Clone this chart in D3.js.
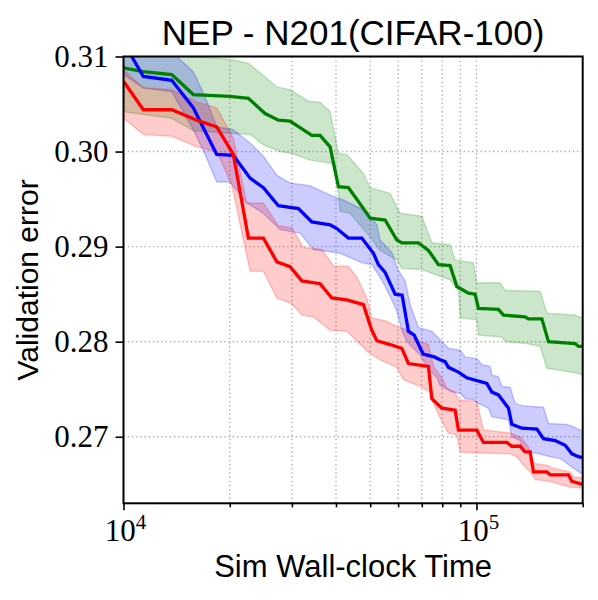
<!DOCTYPE html>
<html>
<head>
<meta charset="utf-8">
<script src="https://cdn.jsdelivr.net/npm/d3@7"></script>
<style>
  body { margin: 0; background: #fff; }
</style>
</head>
<body>
<div id="chart"></div>
<script>
const width = 598;
const height = 600;
const plot = { left: 123.5, right: 582.7, top: 56.5, bottom: 503.3 };

// tick values
const yTicks = [0.27, 0.28, 0.29, 0.30, 0.31];
const yTickLabels = ['0.27', '0.28', '0.29', '0.30', '0.31'];
const xMajor = [1e4, 1e5];
const xMajorExp = ['4', '5'];
const xMinor = [2e4, 3e4, 4e4, 5e4, 6e4, 7e4, 8e4, 9e4, 2e5];

// [time, validation error]
const greenMean = [[10000,0.3088],[11360,0.3084],[13700,0.3081],[15770,0.3060],[20040,0.3058],[22590,0.3056],[25190,0.3040],[27470,0.3033],[29640,0.3032],[34160,0.3017],[36060,0.3017],[38490,0.3005],[40640,0.2963],[43380,0.2962],[46810,0.2945],[49970,0.2930],[55110,0.2928],[59490,0.2907],[61460,0.2904],[68490,0.2904],[73110,0.2896],[78040,0.2881],[84230,0.2880],[88000,0.2858],[94920,0.2851],[99150,0.2850],[101310,0.2835],[115450,0.2834],[119270,0.2828],[137420,0.2826],[140410,0.2824],[153240,0.2824],[159980,0.2800],[190440,0.2798],[194580,0.2795],[200000,0.2795]];
const greenUpper = [[10000,0.3112],[13700,0.3107],[15770,0.3100],[20040,0.3097],[22590,0.3093],[24910,0.3080],[27190,0.3068],[29640,0.3065],[33410,0.3053],[36060,0.3052],[38490,0.3042],[40640,0.2998],[42930,0.2997],[47830,0.2977],[49970,0.2962],[56940,0.2956],[60780,0.2935],[70030,0.2932],[74750,0.2904],[84230,0.2902],[87030,0.2886],[98060,0.2883],[100260,0.2862],[116740,0.2862],[120600,0.2854],[151550,0.2853],[158320,0.2830],[190440,0.2828],[194580,0.2826],[200000,0.2826]];
const greenLower = [[10000,0.3042],[11380,0.3039],[13700,0.3035],[15770,0.3022],[20470,0.3019],[22840,0.3018],[24910,0.3007],[27780,0.3000],[29970,0.2998],[33780,0.2991],[38490,0.2988],[39770,0.2986],[40640,0.2957],[41090,0.2937],[43850,0.2935],[49970,0.2910],[53340,0.2896],[59490,0.2886],[61460,0.2877],[70030,0.2876],[77230,0.2870],[84230,0.2865],[88920,0.2854],[89910,0.2825],[100260,0.2823],[101310,0.2807],[118030,0.2805],[120600,0.2800],[138950,0.2798],[151550,0.2795],[158320,0.2772],[192560,0.2767],[200000,0.2765]];

const blueMean = [[10000,0.3115],[10550,0.3100],[11380,0.3079],[13700,0.3075],[15770,0.3046],[18370,0.2997],[20470,0.2996],[22840,0.2972],[24910,0.2962],[27470,0.2943],[31300,0.2940],[34160,0.2926],[38490,0.2923],[40210,0.2919],[43380,0.2909],[47340,0.2909],[51060,0.2893],[52750,0.2881],[55110,0.2873],[58830,0.2850],[61580,0.2849],[64170,0.2811],[66600,0.2807],[70620,0.2787],[75880,0.2784],[78910,0.2781],[81530,0.2779],[83300,0.2773],[88920,0.2768],[93930,0.2762],[107020,0.2756],[110570,0.2747],[115450,0.2744],[119270,0.2737],[123230,0.2730],[125990,0.2713],[134490,0.2709],[148320,0.2708],[154850,0.2698],[167130,0.2696],[178410,0.2691],[186380,0.2682],[194580,0.2679],[200000,0.2678]];
const blueUpper = [[10000,0.3128],[13700,0.3107],[14150,0.3100],[15770,0.3084],[17020,0.3058],[18370,0.3026],[20470,0.3023],[22840,0.3009],[24910,0.2995],[27190,0.2975],[29640,0.2967],[33780,0.2964],[36060,0.2959],[39770,0.2952],[41980,0.2949],[48910,0.2937],[52210,0.2923],[53340,0.2907],[57580,0.2894],[60110,0.2875],[62800,0.2864],[64880,0.2839],[68490,0.2815],[74750,0.2811],[78910,0.2802],[83300,0.2793],[89910,0.2791],[92900,0.2784],[100260,0.2782],[103590,0.2776],[109350,0.2774],[110570,0.2765],[115450,0.2763],[118030,0.2753],[124600,0.2752],[128730,0.2735],[134490,0.2733],[140410,0.2732],[154850,0.2731],[159980,0.2714],[180400,0.2713],[186380,0.2711],[196750,0.2707],[200000,0.2706]];
const blueLower = [[10000,0.3081],[11380,0.3067],[13700,0.3063],[15770,0.3023],[17020,0.2997],[18370,0.2968],[20040,0.2968],[22350,0.2946],[24910,0.2935],[27780,0.2918],[31640,0.2914],[34520,0.2897],[41090,0.2893],[47340,0.2883],[50530,0.2881],[53940,0.2865],[57580,0.2844],[59490,0.2832],[61460,0.2812],[63500,0.2800],[69250,0.2786],[72350,0.2774],[77230,0.2762],[78910,0.2754],[85170,0.2747],[89910,0.2746],[92900,0.2740],[98060,0.2739],[101310,0.2735],[108150,0.2730],[110570,0.2721],[123230,0.2718],[125990,0.2700],[133010,0.2696],[135900,0.2684],[146690,0.2683],[161770,0.2679],[172680,0.2677],[180400,0.2672],[188340,0.2667],[196750,0.2662],[200000,0.2661]];

const redMean = [[10000,0.3074],[11380,0.3044],[13700,0.3044],[16130,0.3033],[18370,0.3026],[20470,0.2997],[22590,0.2909],[24910,0.2909],[27190,0.2884],[29640,0.2879],[32000,0.2864],[36060,0.2861],[38920,0.2846],[42930,0.2844],[47830,0.2839],[50530,0.2812],[52210,0.2801],[56940,0.2797],[61460,0.2793],[64170,0.2777],[73110,0.2774],[74750,0.2740],[79790,0.2730],[87030,0.2728],[88920,0.2707],[100260,0.2707],[104670,0.2694],[121950,0.2694],[125990,0.2690],[133010,0.2690],[137420,0.2684],[141980,0.2684],[145070,0.2663],[158320,0.2663],[161770,0.2660],[182290,0.2660],[186380,0.2653],[200000,0.2650]];
const redUpper = [[10000,0.3086],[11380,0.3067],[13700,0.3065],[16130,0.3052],[18370,0.3046],[20470,0.3014],[22350,0.2946],[24910,0.2946],[27470,0.2922],[29970,0.2920],[32340,0.2899],[36460,0.2897],[39330,0.2880],[43380,0.2879],[45810,0.2868],[48910,0.2846],[50530,0.2825],[55110,0.2822],[59490,0.2816],[62800,0.2813],[65600,0.2804],[73110,0.2797],[75540,0.2774],[79790,0.2762],[82440,0.2751],[87030,0.2747],[88920,0.2739],[100260,0.2737],[104670,0.2707],[124600,0.2704],[133010,0.2700],[140410,0.2689],[145070,0.2672],[158320,0.2670],[165290,0.2667],[184320,0.2663],[188340,0.2658],[200000,0.2657]];
const redLower = [[10000,0.3035],[11380,0.3018],[13700,0.3016],[16130,0.3005],[18370,0.3000],[20260,0.2965],[22840,0.2874],[24910,0.2874],[27190,0.2846],[29970,0.2840],[32000,0.2828],[34520,0.2826],[38490,0.2812],[42930,0.2811],[49420,0.2789],[53340,0.2781],[59490,0.2773],[62100,0.2760],[69250,0.2753],[73920,0.2747],[74750,0.2739],[78910,0.2720],[83140,0.2704],[88000,0.2702],[89910,0.2684],[101310,0.2683],[124600,0.2682],[130170,0.2679],[134490,0.2672],[143560,0.2661],[146690,0.2655],[161770,0.2653],[184320,0.2647],[200000,0.2646]];

const series = [
    { color: '#008000', mean: greenMean, upper: greenUpper, lower: greenLower },
    { color: '#0000ff', mean: blueMean, upper: blueUpper, lower: blueLower },
    { color: '#ff0000', mean: redMean, upper: redUpper, lower: redLower }
];

const svg = d3.select('#chart')
    .append('svg')
    .attr('width', width)
    .attr('height', height);

const x = d3.scaleLog().domain([1e4, 2e5]).range([plot.left, plot.right]);
const y = d3.scaleLinear().domain([0.263, 0.31]).range([plot.bottom, plot.top]);

svg.append('clipPath')
    .attr('id', 'clip')
    .append('rect')
    .attr('x', plot.left)
    .attr('y', plot.top)
    .attr('width', plot.right - plot.left)
    .attr('height', plot.bottom - plot.top);

// grid
const grid = svg.append('g')
    .attr('stroke', '#b0b0b0')
    .attr('stroke-width', 1.4)
    .attr('stroke-dasharray', '1.4,2.8');

grid.selectAll('.vgrid')
    .data(xMajor.concat(xMinor.slice(0, 8)))
    .enter()
    .append('line')
    .attr('x1', d => x(d))
    .attr('x2', d => x(d))
    .attr('y1', plot.top)
    .attr('y2', plot.bottom);

grid.selectAll('.hgrid')
    .data(yTicks)
    .enter()
    .append('line')
    .attr('x1', plot.left)
    .attr('x2', plot.right)
    .attr('y1', d => y(d))
    .attr('y2', d => y(d));

// bands and lines
const line = d3.line().x(d => x(d[0])).y(d => y(d[1]));
const marks = svg.append('g').attr('clip-path', 'url(#clip)');

series.forEach(s => {
    marks.append('path')
        .attr('d', line(s.upper.concat(s.lower.slice().reverse())) + 'Z')
        .attr('fill', s.color)
        .attr('fill-opacity', 0.2)
        .attr('stroke', s.color)
        .attr('stroke-opacity', 0.2)
        .attr('stroke-width', 1.5);
});

series.forEach(s => {
    marks.append('path')
        .attr('d', line(s.mean))
        .attr('fill', 'none')
        .attr('stroke', s.color)
        .attr('stroke-width', 3.3)
        .attr('stroke-linejoin', 'miter');
});

// axes
const yAxis = svg.append('g')
    .attr('transform', `translate(${plot.left},0)`)
    .call(d3.axisLeft(y).tickValues(yTicks).tickSize(8).tickFormat(''));

const xAxis = svg.append('g')
    .attr('transform', `translate(0,${plot.bottom})`)
    .call(d3.axisBottom(x).tickValues(xMajor).tickSize(7).tickFormat(''));

const xAxisMinor = svg.append('g')
    .attr('transform', `translate(0,${plot.bottom})`)
    .call(d3.axisBottom(x).tickValues(xMinor).tickSize(4).tickFormat(''));

[yAxis, xAxis, xAxisMinor].forEach(a => {
    a.select('.domain').remove();
    a.selectAll('line').attr('stroke', '#000').attr('stroke-width', 1.6);
});

svg.append('rect')
    .attr('x', plot.left)
    .attr('y', plot.top)
    .attr('width', plot.right - plot.left)
    .attr('height', plot.bottom - plot.top)
    .attr('fill', 'none')
    .attr('stroke', '#000')
    .attr('stroke-width', 2);

// tick labels
svg.selectAll('.ylabel')
    .data(yTicks)
    .enter()
    .append('text')
    .attr('x', plot.left - 15)
    .attr('y', d => y(d) + 10)
    .attr('text-anchor', 'end')
    .attr('font-family', 'Liberation Serif, serif')
    .attr('font-size', 31)
    .text((d, i) => yTickLabels[i]);

const xLabels = svg.selectAll('.xlabel')
    .data(xMajor)
    .enter()
    .append('text')
    .attr('x', d => x(d) + 2)
    .attr('y', plot.bottom + 38)
    .attr('text-anchor', 'middle')
    .attr('font-family', 'Liberation Serif, serif')
    .attr('font-size', 31);

xLabels.append('tspan').text('10');
xLabels.append('tspan')
    .attr('font-size', 21)
    .attr('dy', -12)
    .text((d, i) => xMajorExp[i]);

// titles
svg.append('text')
    .attr('x', (plot.left + plot.right) / 2)
    .attr('y', 45)
    .attr('text-anchor', 'middle')
    .attr('font-family', 'Liberation Sans, Arial, sans-serif')
    .attr('font-size', 35)
    .text('NEP - N201(CIFAR-100)');

svg.append('text')
    .attr('x', (plot.left + plot.right) / 2)
    .attr('y', 577)
    .attr('text-anchor', 'middle')
    .attr('font-family', 'Liberation Sans, Arial, sans-serif')
    .attr('font-size', 31)
    .text('Sim Wall-clock Time');

svg.append('text')
    .attr('transform', `translate(38,${(plot.top + plot.bottom) / 2}) rotate(-90)`)
    .attr('text-anchor', 'middle')
    .attr('font-family', 'Liberation Sans, Arial, sans-serif')
    .attr('font-size', 30)
    .text('Validation error');
</script>
</body>
</html>
